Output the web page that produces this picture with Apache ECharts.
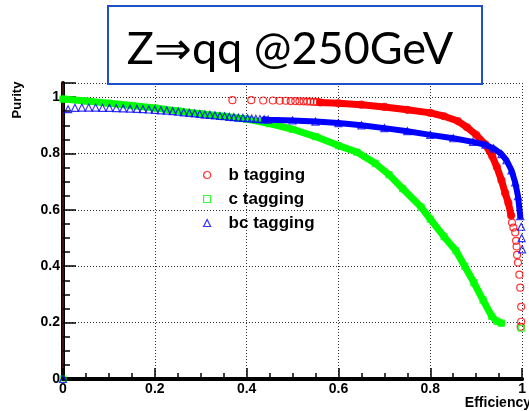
<!DOCTYPE html>
<html>
<head>
<meta charset="utf-8">
<script src="https://cdn.jsdelivr.net/npm/echarts@6/dist/echarts.min.js"></script>
<style>
  html, body { margin: 0; padding: 0; background: #fff; }
  #chart { width: 529px; height: 411px; }
</style>
</head>
<body>
<div id="chart"></div>
<script>
// Purity versus efficiency for flavour tagging, Z -> qq at 250 GeV

const seriesNames = ['b tagging', 'c tagging', 'bc tagging'];
const xTicks = [0, 0.2, 0.4, 0.6, 0.8, 1];
const yTicks = [0, 0.2, 0.4, 0.6, 0.8, 1];

// b tagging
const bEff = [0.369, 0.410, 0.436, 0.457, 0.472, 0.485, 0.496, 0.506, 0.515, 0.524, 0.532, 0.539, 0.546, 0.553,
  0.560, 0.600, 0.650, 0.700, 0.750, 0.800, 0.830, 0.860, 0.880, 0.900, 0.920, 0.935, 0.945, 0.955, 0.963, 0.970, 0.976,
  0.978, 0.981, 0.985, 0.987, 0.988, 0.989, 0.991, 0.994, 0.996, 0.998, 0.998, 0.997];
const bPur = [0.989, 0.989, 0.988, 0.988, 0.987, 0.987, 0.986, 0.986, 0.985, 0.985, 0.984, 0.984, 0.983, 0.983,
  0.981, 0.978, 0.973, 0.965, 0.955, 0.944, 0.932, 0.915, 0.893, 0.866, 0.832, 0.790, 0.752, 0.705, 0.660, 0.625, 0.580,
  0.555, 0.537, 0.520, 0.490, 0.470, 0.440, 0.413, 0.370, 0.324, 0.256, 0.203, 0.185];
const bBand = [14, 31];   // index range drawn as a continuous band

// c tagging
const cEff = [0, 0, 0.05, 0.10, 0.15, 0.20, 0.25, 0.30, 0.35, 0.40, 0.45, 0.50, 0.55, 0.60, 0.64, 0.68, 0.71, 0.74,
  0.78, 0.80, 0.83, 0.856, 0.875, 0.895, 0.915, 0.934, 0.945, 0.955, 0.998];
const cPur = [0, 0.993, 0.986, 0.978, 0.970, 0.961, 0.951, 0.941, 0.932, 0.922, 0.906, 0.886, 0.860, 0.828, 0.805,
  0.765, 0.725, 0.675, 0.610, 0.567, 0.505, 0.455, 0.400, 0.342, 0.280, 0.222, 0.205, 0.198, 0.180];
const cBand = [1, 28];

// bc tagging
const bcEff = [0, 0.011, 0.026, 0.041, 0.056, 0.071, 0.086, 0.101, 0.116, 0.131, 0.146, 0.161, 0.174, 0.187, 0.200,
  0.213, 0.226, 0.239, 0.251, 0.263, 0.275, 0.287, 0.298, 0.309, 0.320, 0.331, 0.342, 0.352, 0.362, 0.372, 0.382,
  0.392, 0.402, 0.411, 0.420, 0.429, 0.438, 0.447,
  0.500, 0.550, 0.600, 0.650, 0.700, 0.750, 0.800, 0.850, 0.893, 0.920, 0.938, 0.955, 0.966, 0.977, 0.985, 0.991, 0.996,
  0.998, 0.999, 1.000];
const bcPur = [0, 0.957, 0.962, 0.963, 0.963, 0.963, 0.962, 0.962, 0.961, 0.960, 0.959, 0.958, 0.957, 0.956, 0.955,
  0.953, 0.952, 0.950, 0.948, 0.946, 0.944, 0.942, 0.940, 0.938, 0.937, 0.935, 0.933, 0.932, 0.930, 0.929, 0.927,
  0.926, 0.925, 0.924, 0.923, 0.922, 0.921, 0.920,
  0.917, 0.913, 0.908, 0.900, 0.890, 0.879, 0.866, 0.854, 0.841, 0.831, 0.818, 0.798, 0.776, 0.740, 0.697, 0.649, 0.578,
  0.540, 0.500, 0.460];
const bcBand = [36, 55];

const colors = ['#ff0000', '#00ff00', '#0000ff'];
const symbols = ['circle', 'rect', 'triangle'];

function pairs(xs, ys) { return xs.map((x, i) => [x, ys[i]]); }

const curves = [
  { x: bEff, y: bPur, band: bBand, width: 7 },
  { x: cEff, y: cPur, band: cBand, width: 7 },
  { x: bcEff, y: bcPur, band: bcBand, width: 6 }
];

const series = [];
curves.forEach((c, k) => {
  const pts = pairs(c.x, c.y);
  series.push({
    type: 'line',
    data: pts.slice(c.band[0], c.band[1]),
    showSymbol: false,
    silent: true,
    lineStyle: { color: colors[k], width: c.width, join: 'round', cap: 'round' },
    z: 2 + k * 2,
    animation: false
  });
  series.push({
    name: seriesNames[k],
    type: 'scatter',
    data: pts,
    symbol: symbols[k],
    symbolSize: k === 1 ? 6 : 7,
    clip: false,
    itemStyle: { color: 'rgba(255,255,255,0)', borderColor: colors[k], borderWidth: 1.2 },
    z: 3 + k * 2,
    animation: false
  });
});

const axisFont = { fontFamily: 'Liberation Sans', fontWeight: 'bold', fontSize: 14, color: '#000' };
const gridLine = { show: true, lineStyle: { color: '#333', type: [1, 2], width: 1 } };

const chart = echarts.init(document.getElementById('chart'), null, { renderer: 'canvas' });
chart.setOption({
  animation: false,
  backgroundColor: '#fff',
  grid: { left: 63, right: 0, top: 83, bottom: 32, containLabel: false },
  xAxis: [{
    type: 'value', min: xTicks[0], max: xTicks[xTicks.length - 1], interval: 0.2,
    axisLine: { lineStyle: { color: '#000', width: 4 } },
    axisTick: { inside: true, length: 11, lineStyle: { color: '#000', width: 1.5 } },
    minorTick: { show: true, splitNumber: 4, length: 6, lineStyle: { color: '#000', width: 1.5 } },
    axisLabel: Object.assign({ margin: 3, formatter: v => String(v) }, axisFont),
    splitLine: gridLine
  }, {
    type: 'value', position: 'top', min: 0, max: 1,
    axisLine: { show: true, lineStyle: { color: '#000', width: 3 } },
    axisTick: { show: false }, axisLabel: { show: false }, splitLine: { show: false }
  }],
  yAxis: [{
    type: 'value', min: yTicks[0], max: 1.05, interval: 0.2,
    axisLine: { lineStyle: { color: '#000', width: 4 } },
    axisTick: { inside: true, length: 13, lineStyle: { color: '#000', width: 1.5 } },
    minorTick: { show: true, splitNumber: 4, length: 7, lineStyle: { color: '#000', width: 1.5 } },
    axisLabel: Object.assign({ margin: 3, formatter: v => (v > 1.01 ? '' : String(+v.toFixed(1))) }, axisFont),
    splitLine: gridLine
  }, {
    type: 'value', position: 'right', min: 0, max: 1.05,
    axisLine: { show: true, lineStyle: { color: '#5a1a1a', width: 1.5 } },
    axisTick: { show: false }, axisLabel: { show: false }, splitLine: { show: false }
  }],
  legend: {
    orient: 'vertical',
    left: 198, top: 160,
    itemWidth: 7, itemHeight: 7, itemGap: 4,
    textStyle: { fontFamily: 'Liberation Sans', fontWeight: 'bold', fontSize: 17, color: '#000',
      lineHeight: 20, padding: [0, 0, 0, 13] },
    data: seriesNames.map((n, k) => ({
      name: n, icon: symbols[k],
      itemStyle: { color: '#fff', borderColor: colors[k], borderWidth: 1.2 }
    }))
  },
  series: series,
  graphic: [
    {
      type: 'rect', z: 100,
      shape: { x: 108, y: 6, width: 374, height: 78 },
      style: { fill: '#fff', stroke: '#1f4fc8', lineWidth: 2 }
    },
    {
      type: 'text', z: 101, x: 290, y: 49,
      style: { text: 'Z\u21D2qq @250GeV', font: '45px Lato, "Open Sans", sans-serif', fill: '#000',
        textAlign: 'center', textVerticalAlign: 'middle' }
    },
    {
      type: 'text', z: 50, x: 17, y: 100, rotation: Math.PI / 2,
      style: { text: 'Purity', font: 'bold 13px "Liberation Sans"', fill: '#000',
        textAlign: 'center', textVerticalAlign: 'middle' }
    },
    {
      type: 'text', z: 50, x: 531, y: 403,
      style: { text: 'Efficiency', font: 'bold 14px "Liberation Sans"', fill: '#000',
        textAlign: 'right', textVerticalAlign: 'middle' }
    }
  ]
});
</script>
</body>
</html>
